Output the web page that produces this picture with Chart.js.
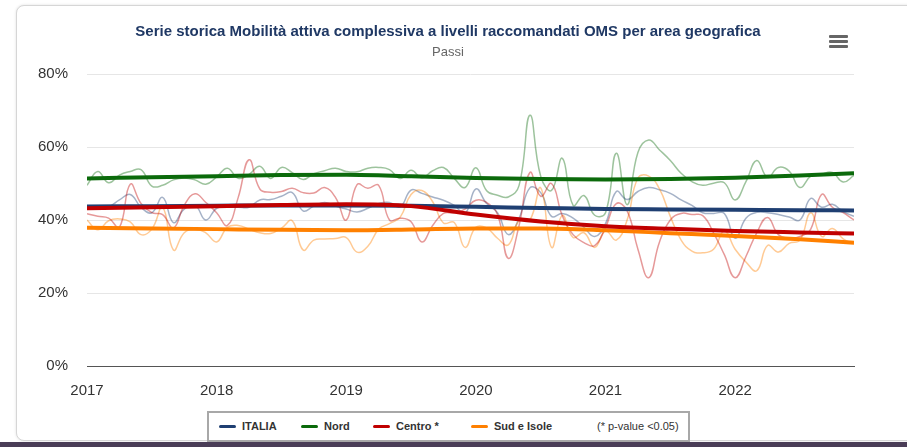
<!DOCTYPE html>
<html>
<head>
<meta charset="utf-8">
<script src="https://cdn.jsdelivr.net/npm/chart.js@4.4.1/dist/chart.umd.min.js"></script>
<style>
  html, body { margin:0; padding:0; background:#fff; width:907px; height:447px; overflow:hidden; font-family:"Liberation Sans", Arial, sans-serif; }
  #card { position:absolute; left:16px; top:5px; width:910px; height:434px; border:1px solid #d6d6d6; border-radius:8px; box-shadow:0 0 3px rgba(0,0,0,0.12); background:#fff; }
  #bottomBar { position:absolute; left:0; top:442px; width:907px; height:5px; background:#4a3d57; }
  #holder { position:absolute; left:0; top:0; width:897px; height:416px; }
  #title { position:absolute; left:48px; width:800px; top:22px; text-align:center; font-size:15px; font-weight:bold; color:#1f3864; line-height:18px; white-space:nowrap; }
  #subtitle { position:absolute; left:48px; width:800px; top:44px; text-align:center; font-size:13px; color:#666; line-height:16px; }
  #menu { position:absolute; left:829px; top:35px; width:19px; }
  #menu div { height:3px; background:#666; margin-bottom:2px; border-radius:1px; }
  #legendBox { position:absolute; left:207px; top:411px; width:479px; height:27px; border:2px solid #a8a8a8; background:#fff; }
  .legItem { position:absolute; top:0; height:27px; line-height:27px; font-size:11px; font-weight:bold; color:#333; white-space:nowrap; }
  .legMarker { display:inline-block; width:17px; height:3px; border-radius:2px; vertical-align:middle; margin-right:6px; margin-top:-2px; }
  #pnote { position:absolute; left:388px; top:0; height:27px; line-height:27px; font-size:11px; color:#333; }
</style>
</head>
<body>
<div id="card"></div>
<div id="holder"><canvas id="chart"></canvas></div>
<div id="title">Serie storica Mobilità attiva complessiva a livelli raccomandati OMS per area geografica</div>
<div id="subtitle">Passi</div>
<div id="menu"><div></div><div></div><div></div></div>
<div id="legendBox"></div>
<div id="bottomBar"></div>
<script>
// monthly series, Jan 2017 .. Dec 2022
const startYear = 2017;

const italia = [43.8,43.5,43.6,45.5,47.0,43.5,42.0,46.2,39.3,43.0,44.0,40.0,
                43.2,43.5,43.5,43.5,45.5,45.6,46.5,47.5,42.5,43.8,44.8,43.8,
                43.0,42.2,43.2,44.5,44.8,43.6,48.2,47.3,46.3,45.4,44.0,41.8,
                48.5,44.5,42.0,36.0,40.5,48.8,47.5,41.0,41.8,40.5,38.0,35.5,
                39.0,47.8,45.6,47.8,48.9,48.3,47.3,45.5,44.0,42.0,41.8,41.8,
                35.0,40.5,42.1,42.0,41.5,40.8,40.0,45.9,43.5,44.3,42.3,41.0];

const nord = [49.5,53.3,50.2,52.3,53.3,53.8,49.3,49.5,51.0,51.5,51.0,49.8,
              51.8,54.2,51.4,52.5,54.7,51.4,54.4,53.0,51.1,52.7,53.5,54.2,
              53.3,53.2,54.2,54.4,53.8,51.4,53.6,51.6,53.5,54.4,51.4,48.9,
              54.3,48.0,46.8,46.3,49.5,68.7,52.0,48.1,56.9,44.0,46.7,41.3,
              42.0,58.3,44.2,58.5,61.9,59.2,56.3,52.8,50.5,49.5,50.1,50.2,
              45.5,50.5,56.3,51.7,54.4,53.4,48.9,52.0,52.6,53.0,50.4,52.2];

const centro = [41.7,41.0,40.5,38.0,49.8,44.5,42.0,41.5,37.8,44.0,47.2,44.8,
                42.0,38.5,46.2,56.5,48.5,47.6,47.8,48.7,47.5,47.4,48.9,46.2,
                40.0,49.7,48.7,49.5,40.0,40.5,39.5,34.0,38.5,41.8,42.0,43.0,
                45.4,44.8,41.5,29.5,38.5,53.0,46.5,50.0,41.2,36.0,33.8,33.0,
                38.0,44.5,42.5,32.0,24.2,34.0,40.0,41.8,41.5,41.2,36.5,30.5,
                24.2,30.0,36.5,40.7,36.0,35.0,35.5,37.5,47.0,43.5,42.0,40.0];

const sud = [40.0,37.3,39.8,40.3,39.5,36.0,37.5,43.5,31.8,36.5,37.5,36.5,
             34.0,38.0,38.5,37.5,36.5,36.3,37.8,39.8,31.8,34.5,34.8,34.9,
             35.2,31.2,32.8,37.5,39.0,40.8,47.0,48.1,45.0,39.2,39.3,32.5,
             38.0,37.8,35.0,33.2,39.8,40.0,48.8,32.5,41.2,35.2,36.5,32.5,
             37.0,34.5,40.0,51.5,52.0,48.5,41.0,34.5,31.5,31.0,32.0,37.0,
             32.0,28.5,26.1,33.0,31.2,33.6,34.5,42.0,35.5,37.7,34.8,33.5];

// trend lines, read every six months
const trendX = [2017,2017.5,2018,2018.5,2019,2019.5,2020,2020.5,2021,2021.5,2022,2022.5,2022.917];
const italiaTrend = [43.7,43.8,43.9,44.0,44.0,43.9,43.6,43.3,43.0,42.9,42.8,42.7,42.6];
const nordTrend   = [51.4,51.7,52.0,52.3,52.4,52.0,51.5,51.2,51.1,51.2,51.6,52.2,52.8];
const centroTrend = [43.2,43.5,43.8,44.1,44.3,43.8,41.5,39.6,38.3,37.6,37.0,36.6,36.3];
const sudTrend    = [37.9,37.7,37.5,37.3,37.2,37.4,37.7,37.7,37.2,36.4,35.6,34.7,33.8];

const yTicks = [0,20,40,60,80];

const areas = [
  {name:'ITALIA',      color:'#1f3f72', faint:'rgba(31,63,114,0.4)',  monthly:italia, trend:italiaTrend, order:3},
  {name:'Nord',        color:'#0b6a0b', faint:'rgba(11,106,11,0.4)',  monthly:nord,   trend:nordTrend,   order:4},
  {name:'Centro *',    color:'#c00000', faint:'rgba(192,0,0,0.4)',    monthly:centro, trend:centroTrend, order:1},
  {name:'Sud e Isole', color:'#ff8000', faint:'rgba(255,128,0,0.42)', monthly:sud,    trend:sudTrend,    order:2}
];

let datasets = [];
areas.forEach(a => {
  datasets.push({
    label:a.name,
    data:a.trend.map((v,i) => ({x:trendX[i], y:v})),
    borderColor:a.color, backgroundColor:a.color,
    borderWidth:4, pointRadius:0, cubicInterpolationMode:'monotone',
    order:a.order
  });
});
areas.forEach(a => {
  datasets.push({
    label:a.name + ' mensile',
    data:a.monthly.map((v,i) => ({x:startYear + i/12, y:v})),
    borderColor:a.faint, backgroundColor:a.faint,
    borderWidth:1.5, pointRadius:0, tension:0.45,
    order:10 + a.order
  });
});

// html legend
let lhtml = "";
const legX = [10, 92, 164, 262];
areas.forEach((a,i) => {
  lhtml += "<div class='legItem' style='left:"+legX[i]+"px'><span class='legMarker' style='background:"+a.color+"'></span>"+a.name+"</div>";
});
lhtml += "<div id='pnote'>(* p-value &lt;0.05)</div>";
document.getElementById("legendBox").innerHTML = lhtml;

const tickFont = {family:'"Liberation Sans", Arial, sans-serif', size:15};

new Chart(document.getElementById('chart'), {
  type:'line',
  data:{datasets:datasets},
  options:{
    responsive:true, maintainAspectRatio:false, animation:false,
    layout:{padding:{left:0, right:43, top:74, bottom:0}},
    plugins:{
      legend:{display:false},
      tooltip:{enabled:false}
    },
    scales:{
      x:{type:'linear', min:2017, max:2022.917,
         grid:{display:false, drawTicks:false},
         border:{display:true, color:'#555', width:1},
         afterBuildTicks:axis => { axis.ticks = axis.ticks.filter(t => Number.isInteger(t.value)); },
         ticks:{stepSize:1, color:'#333', font:tickFont, padding:16, maxRotation:0, autoSkip:false, callback:v => String(v)}},
      y:{min:0, max:80,
         afterBuildTicks:axis => { axis.ticks = yTicks.map(v => ({value:v})); },
         afterFit:axis => { axis.width = 87; },
         grid:{color:'#e6e6e6', drawTicks:false},
         border:{display:false},
         ticks:{color:'#333', font:tickFont, padding:19, callback:v => v + '%'}}
    }
  }
});
</script>
</body>
</html>
